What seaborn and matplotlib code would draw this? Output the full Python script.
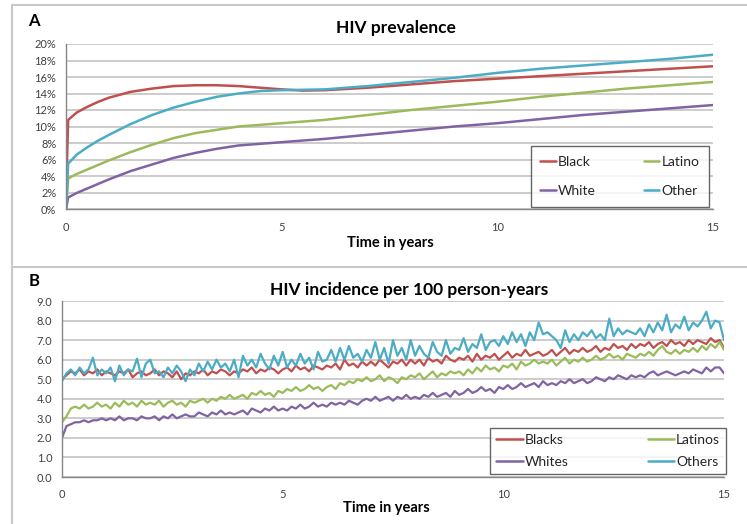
import numpy as np
import pandas as pd
import matplotlib
matplotlib.use("Agg")
import matplotlib.pyplot as plt
from matplotlib.lines import Line2D
from matplotlib.ticker import FuncFormatter, MultipleLocator
import seaborn as sns

# ---------------- Panel A data: HIV prevalence (%) ----------------
prev_time = [0.0, 0.05, 0.25, 0.5, 0.75, 1.0, 1.5, 2.0, 2.5, 3.0, 3.5, 4.0, 4.5, 5.0, 5.5, 6.0,
             7.0, 8.0, 9.0, 10.0, 11.0, 12.0, 13.0, 14.0, 15.0]
prev_black = [1.5, 10.8, 11.7, 12.4, 13.0, 13.5, 14.2, 14.6, 14.9, 15.0, 15.0, 14.9, 14.7, 14.5, 14.35, 14.4,
              14.7, 15.1, 15.5, 15.8, 16.1, 16.4, 16.7, 17.0, 17.3]
prev_latino = [0.0, 3.7, 4.25, 4.8, 5.35, 5.9, 6.9, 7.8, 8.6, 9.2, 9.6, 10.0, 10.2, 10.4, 10.6, 10.8,
               11.4, 12.0, 12.5, 13.0, 13.6, 14.1, 14.6, 15.0, 15.4]
prev_white = [0.0, 1.4, 1.95, 2.5, 3.05, 3.6, 4.6, 5.4, 6.2, 6.8, 7.3, 7.7, 7.9, 8.1, 8.3, 8.5,
              9.0, 9.5, 10.0, 10.4, 10.9, 11.4, 11.8, 12.2, 12.6]
prev_other = [0.0, 5.5, 6.6, 7.5, 8.3, 9.0, 10.3, 11.4, 12.3, 13.0, 13.6, 14.0, 14.3, 14.4, 14.45, 14.5,
              14.9, 15.4, 15.9, 16.5, 17.0, 17.4, 17.8, 18.2, 18.7]
prev_labels = ["Black", "Latino", "White", "Other"]

# ---------------- Panel B data: HIV incidence per 100 person-years ----------------
inc_step = 0.1
inc_blacks = [
    5.0, 5.2, 5.4, 5.3, 5.5, 5.2, 5.4, 5.3, 5.5, 5.2,
    5.4, 5.3, 5.2, 5.4, 5.3, 5.5, 5.1, 5.3, 5.4, 5.2,
    5.3, 5.5, 5.2, 5.4, 5.3, 5.1, 5.4, 5.0, 5.3, 5.2,
    5.4, 5.3, 5.5, 5.2, 5.4, 5.3, 5.5, 5.4, 5.2, 5.4,
    5.3, 5.5, 5.4, 5.6, 5.3, 5.5, 5.4, 5.6, 5.5, 5.3,
    5.5, 5.6, 5.4, 5.7, 5.5, 5.6, 5.4, 5.7, 5.6, 5.5,
    5.7, 5.6, 5.8, 5.5, 6.0, 5.7, 5.8, 5.6, 5.9, 5.7,
    5.9, 5.7, 6.0, 5.8, 5.6, 5.9, 5.8, 6.0, 5.7, 6.0,
    5.8, 6.0, 5.7, 6.1, 5.9, 6.0, 5.8, 6.2, 6.0, 5.9,
    6.1, 6.0, 6.2, 5.9, 6.3, 6.0, 6.2, 6.1, 6.3, 6.0,
    6.2, 6.4, 6.1, 6.3, 6.2, 6.5, 6.2, 6.3, 6.4, 6.2,
    6.3, 6.5, 6.2, 6.4, 6.6, 6.3, 6.5, 6.4, 6.6, 6.4,
    6.5, 6.7, 6.4, 6.6, 6.5, 6.8, 6.6, 6.7, 6.5, 6.8,
    6.6, 6.8, 6.7, 6.9, 6.6, 6.8, 6.9, 6.7, 7.0, 6.8,
    6.9, 6.7, 7.0, 6.8, 7.0, 6.9, 6.8, 7.1, 6.9, 7.0,
    6.6]
inc_latinos = [
    2.8, 3.1, 3.5, 3.6, 3.5, 3.7, 3.5, 3.6, 3.8, 3.6,
    3.7, 3.5, 3.8, 3.6, 3.9, 3.7, 3.8, 3.6, 3.9, 3.7,
    3.8, 3.7, 3.9, 3.6, 3.8, 3.9, 3.7, 3.8, 3.6, 3.9,
    3.8, 3.9, 4.0, 3.8, 4.0, 3.9, 4.1, 4.0, 4.2, 4.0,
    4.1, 4.2, 4.0, 4.3, 4.2, 4.4, 4.2, 4.3, 4.1, 4.4,
    4.3, 4.5, 4.4, 4.6, 4.4, 4.5, 4.7, 4.5, 4.6, 4.4,
    4.6, 4.7, 4.5, 4.8, 4.7, 4.9, 4.8, 5.0, 4.9, 5.1,
    4.9, 5.0, 5.2, 4.9, 5.1, 5.0, 4.8, 5.1, 5.0, 5.2,
    5.1, 5.3, 5.0, 5.2, 5.4, 5.1, 5.3, 5.2, 5.4, 5.3,
    5.4, 5.2, 5.5, 5.3, 5.6, 5.4, 5.7, 5.5, 5.6, 5.4,
    5.7, 5.6, 5.8, 5.5, 5.9, 5.7, 5.8, 6.0, 5.8, 5.9,
    5.8, 6.0, 5.7, 5.9, 6.1, 5.8, 6.0, 5.9, 6.1, 5.9,
    6.0, 6.2, 6.0, 6.1, 6.3, 6.1, 6.2, 6.0, 6.3, 6.2,
    6.1, 6.3, 6.2, 6.4, 6.2, 6.5, 6.7, 6.4, 6.3, 6.5,
    6.3, 6.5, 6.4, 6.6, 6.4, 6.7, 6.5, 6.8, 6.6, 6.9,
    6.5]
inc_whites = [
    2.0, 2.6, 2.7, 2.8, 2.8, 2.9, 2.8, 2.9, 2.9, 3.0,
    2.9, 3.0, 2.9, 3.1, 2.9, 3.0, 3.0, 2.9, 3.1, 3.0,
    3.0, 3.1, 2.9, 3.1, 3.0, 3.2, 3.0, 3.1, 3.2, 3.1,
    3.1, 3.3, 3.2, 3.1, 3.3, 3.2, 3.4, 3.2, 3.3, 3.2,
    3.3, 3.4, 3.2, 3.5, 3.4, 3.3, 3.5, 3.4, 3.6, 3.4,
    3.5, 3.4, 3.6, 3.5, 3.7, 3.5, 3.6, 3.8, 3.6, 3.7,
    3.6, 3.8, 3.7, 3.8, 3.7, 3.9, 3.8, 3.7, 3.9, 4.0,
    3.9, 4.1, 3.9, 4.0, 4.1, 3.9, 4.1, 4.0, 4.2, 4.0,
    4.1, 4.0, 4.2, 4.1, 4.3, 4.1, 4.2, 4.3, 4.1, 4.4,
    4.2, 4.3, 4.5, 4.3, 4.4, 4.6, 4.4, 4.5, 4.3, 4.6,
    4.5, 4.7, 4.5, 4.6, 4.8, 4.6, 4.7, 4.8, 4.6, 4.9,
    4.7, 4.8, 4.7, 4.9, 4.8, 5.0, 4.8, 4.9, 5.0, 4.8,
    4.9, 5.1, 5.0, 4.9, 5.1, 5.0, 5.2, 5.1, 5.0, 5.2,
    5.1, 5.2, 5.1, 5.3, 5.4, 5.2, 5.3, 5.4, 5.3, 5.2,
    5.3, 5.4, 5.3, 5.5, 5.4, 5.3, 5.6, 5.4, 5.6, 5.6,
    5.3]
inc_others = [
    4.9, 5.3, 5.5, 5.2, 5.6, 5.3, 5.5, 6.1, 5.2, 5.5,
    5.3, 5.6, 4.9, 5.7, 5.2, 5.5, 5.4, 6.05, 5.1, 5.8,
    6.0, 5.3, 5.4, 5.1, 5.6, 5.3, 5.7, 5.4, 4.9, 5.5,
    5.2, 5.8, 5.4, 5.9, 5.5, 6.0, 5.6, 5.8, 5.4, 6.0,
    5.1, 6.2, 5.7, 6.0, 5.6, 6.3, 5.8, 5.5, 6.2, 5.7,
    6.4, 5.6, 6.0, 5.7, 6.3, 5.8, 6.1, 5.5, 6.4, 5.9,
    6.0, 6.5, 5.9, 6.6, 6.0, 6.7, 6.1, 6.3, 5.9, 6.5,
    6.1, 6.9, 6.0, 6.6, 5.8, 7.0, 6.2, 6.6, 6.0, 7.0,
    6.2, 6.7, 6.3, 6.1, 6.9, 6.4, 6.2, 7.0, 6.3, 6.6,
    6.5, 7.1, 6.4, 6.8, 6.6, 7.3, 6.5, 6.9, 7.0, 6.7,
    7.2, 6.8, 7.4, 6.9, 7.3, 6.7, 7.4, 7.0, 7.9, 7.3,
    7.4, 7.2, 7.0, 6.6, 7.5, 6.9, 7.3, 7.0, 7.4, 7.2,
    7.5, 7.1, 7.3, 7.0, 8.1, 7.2, 7.6, 7.3, 7.5, 7.4,
    7.3, 7.6, 7.2, 7.8, 7.4, 7.9, 7.5, 8.3, 7.4, 7.8,
    7.6, 8.2, 7.5, 7.9, 7.7, 8.0, 8.45, 7.6, 8.0, 7.9,
    7.0]
inc_labels = ["Blacks", "Latinos", "Whites", "Others"]

colors = ["#C0504D", "#9BBB59", "#8064A2", "#4BACC6"]

# ---------------- build tables ----------------
dfA = pd.concat([
    pd.DataFrame({"t": prev_time, "v": vals, "g": lab})
    for lab, vals in zip(prev_labels, [prev_black, prev_latino, prev_white, prev_other])
])
inc_time = [round(i * inc_step, 2) for i in range(len(inc_blacks))]
dfB = pd.concat([
    pd.DataFrame({"t": inc_time, "v": vals, "g": lab})
    for lab, vals in zip(inc_labels, [inc_blacks, inc_latinos, inc_whites, inc_others])
])

sns.set_style("white")
plt.rcParams["font.family"] = ["Lato", "DejaVu Sans"]

fig = plt.figure(figsize=(7.47, 5.24), dpi=100)
W, H = 747.0, 524.0

def fx(px):
    return px / W

def fy(py):
    return 1 - py / H

axA = fig.add_axes([fx(66), fy(209), fx(713) - fx(66), fy(44) - fy(209)])
axB = fig.add_axes([fx(62), fy(477), fx(724) - fx(62), fy(301) - fy(477)])

grid_c = "#BFBFBF"
spine_c = "#868686"
tick_c = "#404040"

sns.lineplot(data=dfA, x="t", y="v", hue="g", palette=colors, hue_order=prev_labels,
             linewidth=1.8, ax=axA, legend=False, estimator=None, sort=False)
sns.lineplot(data=dfB, x="t", y="v", hue="g", palette=colors, hue_order=inc_labels,
             linewidth=1.6, ax=axB, legend=False, estimator=None, sort=False)

def style(ax, ymax, ystep, fmt, xpad):
    ax.set_xlim(0, 15)
    ax.set_ylim(0, ymax)
    ax.xaxis.set_major_locator(MultipleLocator(5))
    ax.xaxis.set_minor_locator(MultipleLocator(1))
    ax.yaxis.set_major_locator(MultipleLocator(ystep))
    ax.yaxis.set_major_formatter(FuncFormatter(fmt))
    ax.grid(axis="y", color=grid_c, linewidth=1.1)
    ax.set_axisbelow(True)
    for s in ["top", "right"]:
        ax.spines[s].set_visible(False)
    for s in ["left", "bottom"]:
        ax.spines[s].set_color(spine_c)
        ax.spines[s].set_linewidth(1.0)
    ax.tick_params(axis="x", which="both", direction="out", length=4, width=1,
                   color=spine_c, labelsize=8, labelcolor=tick_c, pad=xpad)
    ax.tick_params(axis="y", which="major", direction="out", length=4, width=1,
                   color=spine_c, labelsize=8, labelcolor=tick_c, pad=3)
    ax.set_xlabel("")
    ax.set_ylabel("")
    ax.set_facecolor("white")

style(axA, 20, 2, lambda v, p: f"{v:.0f}%", 5)
style(axB, 9, 1, lambda v, p: f"{v:.1f}", 4.5)

# legends (column-major fill: col 1 = first two entries)
legA_order = [0, 2, 1, 3]
handlesA = [Line2D([], [], color=colors[i], linewidth=1.8) for i in legA_order]
legA = axA.legend(handlesA, [prev_labels[i] for i in legA_order], ncol=2, loc="lower left",
                  bbox_to_anchor=(0.718, 0.012, 0.276, 0.39), mode="expand",
                  fontsize=10, frameon=True, fancybox=False, handlelength=1.1,
                  handletextpad=0.15, labelspacing=1.25, borderpad=0.7,
                  columnspacing=1.5, borderaxespad=0)
legA.get_frame().set_edgecolor("#404040")
legA.get_frame().set_linewidth(1.0)

handlesB = [Line2D([], [], color=colors[i], linewidth=1.8) for i in legA_order]
legB = axB.legend(handlesB, [inc_labels[i] for i in legA_order], ncol=2, loc="lower left",
                  bbox_to_anchor=(0.6465, 0.017, 0.357, 0.28), mode="expand",
                  fontsize=10, frameon=True, fancybox=False, handlelength=1.9,
                  handletextpad=0.15, labelspacing=0.7, borderpad=0.45,
                  columnspacing=1.5, borderaxespad=0)
legB.get_frame().set_edgecolor("#404040")
legB.get_frame().set_linewidth(1.0)

# titles and labels
fig.text(fx(396), fy(28), "HIV prevalence", ha="center", va="center",
         fontsize=12.5, fontweight="bold", color="black")
fig.text(fx(409), fy(290), "HIV incidence per 100 person-years", ha="center", va="center",
         fontsize=12.5, fontweight="bold", color="black")
fig.text(fx(390), fy(243), "Time in years", ha="center", va="center",
         fontsize=10.5, fontweight="bold", color="black")
fig.text(fx(386), fy(508), "Time in years", ha="center", va="center",
         fontsize=10.5, fontweight="bold", color="black")
fig.text(fx(34), fy(21), "A", ha="center", va="center", fontsize=12,
         fontweight="bold", color="black")
fig.text(fx(34), fy(281), "B", ha="center", va="center", fontsize=12,
         fontweight="bold", color="black")

# panel frames
frame_c = "#C8C8C8"
fig.add_artist(Line2D([fx(12), 1.0], [fy(5), fy(5)], color=frame_c, linewidth=1.5))
fig.add_artist(Line2D([fx(12), fx(12)], [fy(5), fy(265)], color=frame_c, linewidth=1.5))
fig.add_artist(Line2D([fx(12), 1.0], [fy(267), fy(267)], color=frame_c, linewidth=1.5))
fig.add_artist(Line2D([fx(12), fx(12)], [fy(267), 0.0], color=frame_c, linewidth=1.5))

fig.savefig("out.png", dpi=100, facecolor="white")
